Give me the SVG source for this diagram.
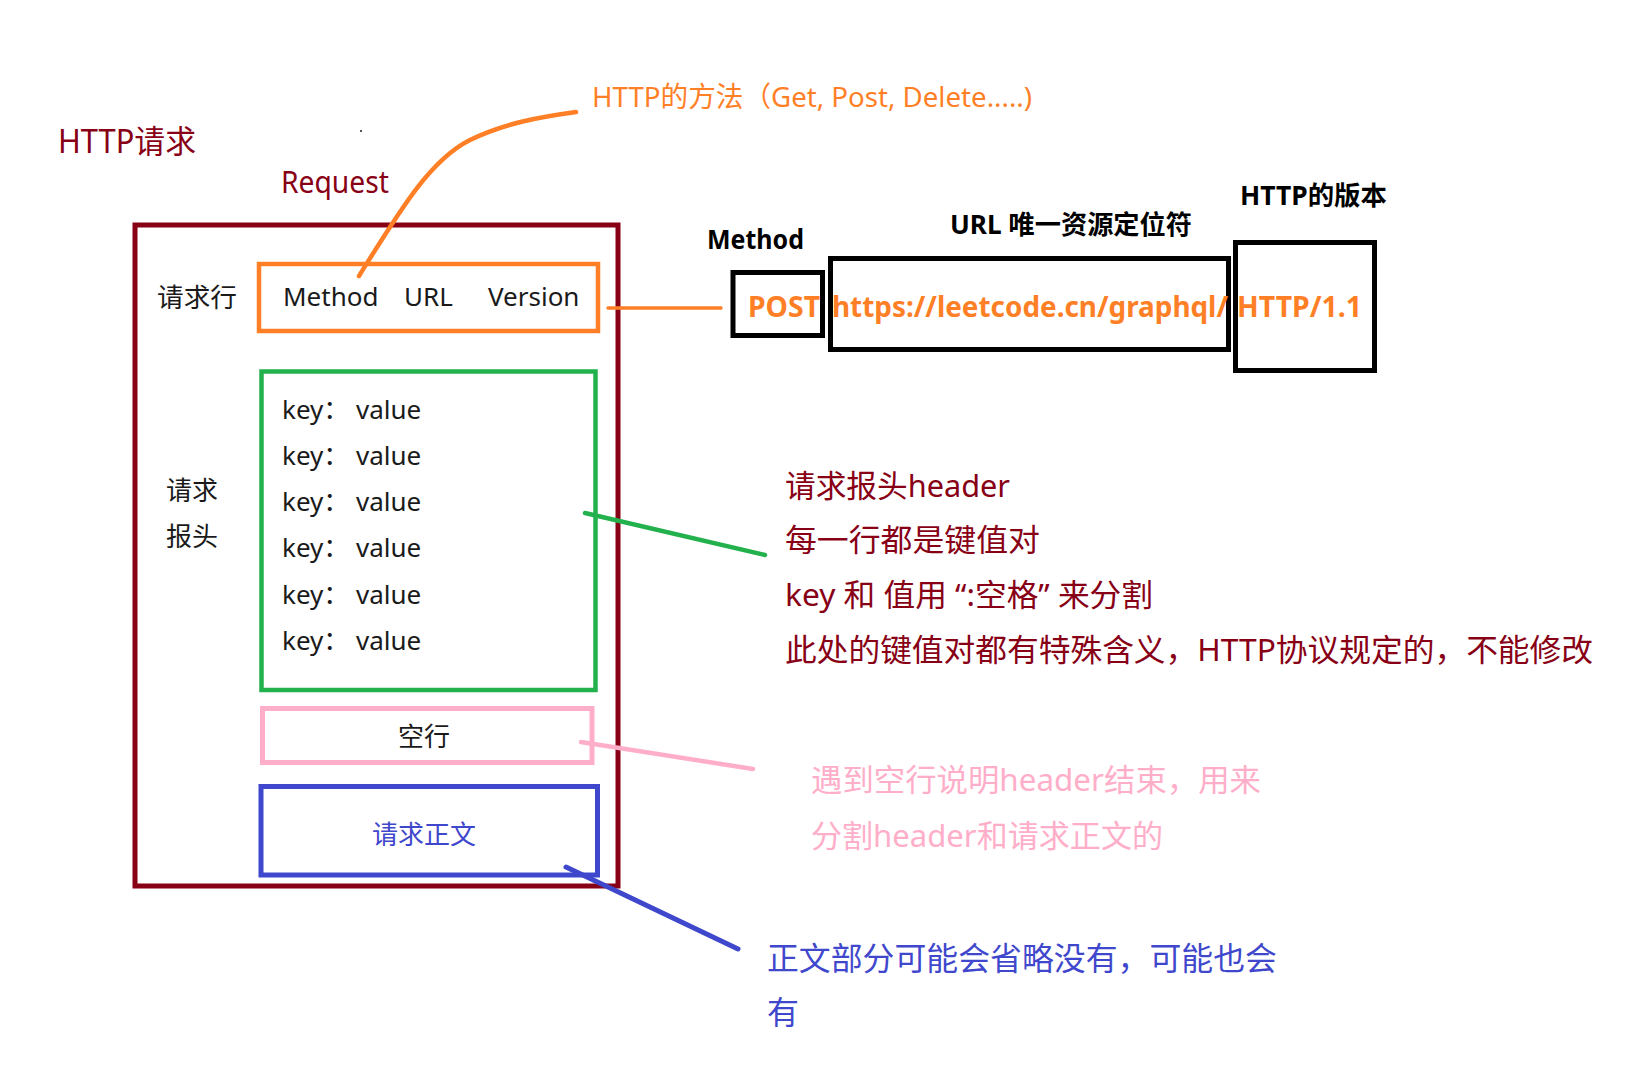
<svg xmlns="http://www.w3.org/2000/svg" width="1632" height="1074" viewBox="0 0 1632 1074">
<style>
text{font-family:"Noto Sans","Noto Sans CJK SC",sans-serif;}
.dr{fill:#880015;}
.or{fill:#FF7F27;}
.bk{fill:#1a1a1a;}
.bl{fill:#3F48CC;}
.pk{fill:#FFAEC9;}
.b{font-weight:bold;fill:#000;}
.box{fill:none;}
.s26{font-size:26px;}
.s31{font-size:31px;}
</style>
<rect width="1632" height="1074" fill="#fff"/>
<g id="titles">
<text class="dr" x="58" y="153" font-size="32" textLength="138" lengthAdjust="spacingAndGlyphs">HTTP请求</text>
<rect x="360" y="130" width="2" height="2" fill="#555"/>
<text class="dr" x="281" y="193" font-size="30" textLength="108" lengthAdjust="spacingAndGlyphs">Request</text>
</g>
<g id="request">
<rect class="box" x="135" y="225" width="483" height="661" stroke="#880015" stroke-width="5"/>
</g>
<g id="request-line">
<text class="bk s26" x="157" y="307" textLength="80" lengthAdjust="spacingAndGlyphs">请求行</text>
<rect class="box" x="259" y="264" width="339" height="67" stroke="#FF7F27" stroke-width="4.5"/>
<text class="bk s26" y="306"><tspan x="283">Method</tspan><tspan x="404">URL</tspan><tspan x="488">Version</tspan></text>
</g>
<g id="headers">
<text class="bk s26" x="166" y="500">请求</text>
<text class="bk s26" x="166" y="546">报头</text>
<rect class="box" x="261.5" y="371.5" width="334" height="318.5" stroke="#22B14C" stroke-width="4.5"/>
<text class="bk s26" y="419"><tspan x="282">key：</tspan><tspan x="356">value</tspan></text>
<text class="bk s26" y="465"><tspan x="282">key：</tspan><tspan x="356">value</tspan></text>
<text class="bk s26" y="511"><tspan x="282">key：</tspan><tspan x="356">value</tspan></text>
<text class="bk s26" y="557"><tspan x="282">key：</tspan><tspan x="356">value</tspan></text>
<text class="bk s26" y="604"><tspan x="282">key：</tspan><tspan x="356">value</tspan></text>
<text class="bk s26" y="650"><tspan x="282">key：</tspan><tspan x="356">value</tspan></text>
</g>
<g id="blank-line">
<rect class="box" x="262.5" y="708.5" width="329.5" height="54" stroke="#FFAEC9" stroke-width="5"/>
<text class="bk s26" x="424" y="746" text-anchor="middle">空行</text>
</g>
<g id="body">
<rect class="box" x="261" y="786.5" width="336.5" height="88.5" stroke="#3F48CC" stroke-width="5"/>
<text class="bl s26" x="424" y="844" text-anchor="middle">请求正文</text>
</g>
<g id="method-note">
<text class="or" x="592" y="107" font-size="28" textLength="440" lengthAdjust="spacingAndGlyphs">HTTP的方法（Get, Post, Delete.....)</text>
</g>
<g id="method-box">
<text class="b s26" x="707" y="249" textLength="97" lengthAdjust="spacingAndGlyphs">Method</text>
<rect class="box" x="733" y="272.5" width="89.5" height="63" stroke="#000" stroke-width="5"/>
<text class="or" x="748" y="317" font-size="28" font-weight="bold" textLength="72" lengthAdjust="spacingAndGlyphs">POST</text>
</g>
<g id="url-box">
<text class="b s26" x="950" y="234" textLength="242" lengthAdjust="spacingAndGlyphs">URL 唯一资源定位符</text>
<rect class="box" x="830.5" y="258.5" width="398" height="91" stroke="#000" stroke-width="5"/>
<text class="or" x="832" y="317" font-size="28" font-weight="bold" textLength="396" lengthAdjust="spacingAndGlyphs">https://leetcode.cn/graphql/</text>
</g>
<g id="version-box">
<text class="b s26" x="1240" y="205" textLength="147" lengthAdjust="spacingAndGlyphs">HTTP的版本</text>
<rect class="box" x="1235.5" y="242.5" width="139" height="128" stroke="#000" stroke-width="5"/>
<text class="or" x="1237" y="317" font-size="28" font-weight="bold" textLength="125" lengthAdjust="spacingAndGlyphs">HTTP/1.1</text>
</g>
<g id="header-note">
<text class="dr s31" x="785" y="497" textLength="225" lengthAdjust="spacingAndGlyphs">请求报头header</text>
<text class="dr s31" x="785" y="551" textLength="255" lengthAdjust="spacingAndGlyphs">每一行都是键值对</text>
<text class="dr s31" x="785" y="606" textLength="368" lengthAdjust="spacingAndGlyphs">key 和 值用 “:空格” 来分割</text>
<text class="dr s31" x="785" y="661" textLength="808" lengthAdjust="spacingAndGlyphs">此处的键值对都有特殊含义，HTTP协议规定的，不能修改</text>
</g>
<g id="blank-note">
<text class="pk s31" x="811" y="791" textLength="450" lengthAdjust="spacingAndGlyphs">遇到空行说明header结束，用来</text>
<text class="pk s31" x="811" y="847" textLength="352" lengthAdjust="spacingAndGlyphs">分割header和请求正文的</text>
</g>
<g id="body-note">
<text class="bl" x="767" y="970" font-size="32" textLength="510" lengthAdjust="spacingAndGlyphs">正文部分可能会省略没有，可能也会</text>
<text class="bl" x="767" y="1024" font-size="32">有</text>
</g>
<g id="connectors" fill="none" stroke-linecap="round">
<path d="M359,276 C400,210 430,160 470,140 C505,123 540,117 576,112" stroke="#FF7F27" stroke-width="4.5"/>
<line x1="608" y1="308" x2="721" y2="308" stroke="#FF7F27" stroke-width="3.5"/>
<line x1="585" y1="513" x2="765" y2="555" stroke="#22B14C" stroke-width="4.5"/>
<line x1="581" y1="742" x2="753" y2="769" stroke="#FFAEC9" stroke-width="4.5"/>
<line x1="566" y1="867" x2="738" y2="949" stroke="#3F48CC" stroke-width="5"/>
</g>
</svg>
